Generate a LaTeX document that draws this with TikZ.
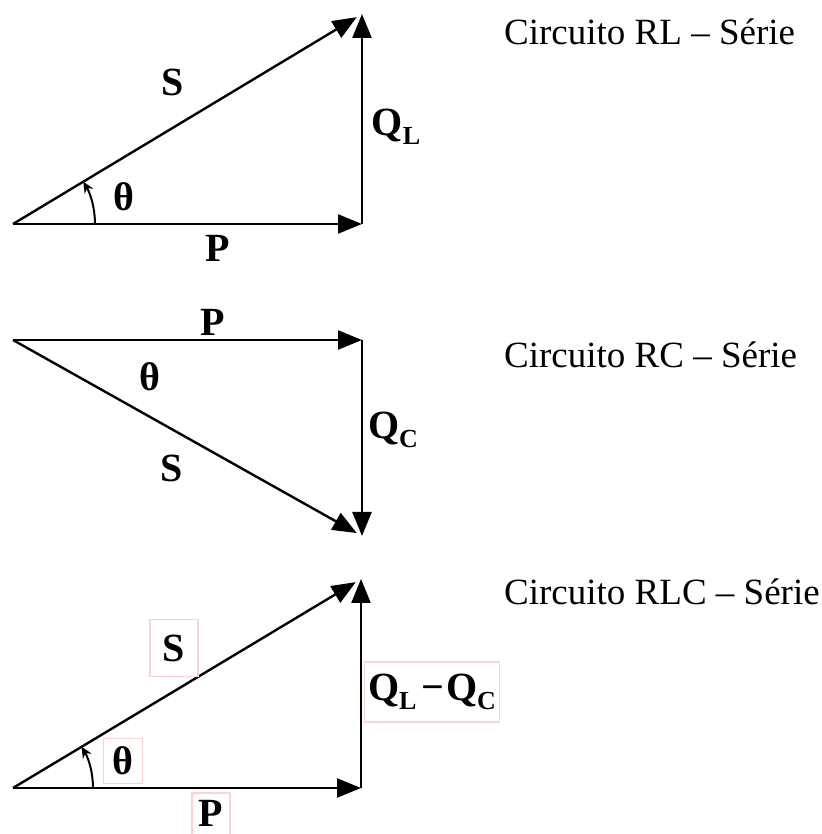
\documentclass[tikz,border=0pt]{standalone}
\usepackage{fontspec}
\setmainfont{Liberation Serif}
\usetikzlibrary{arrows.meta,calc}
\newcommand{\mysub}[1]{\raisebox{-0.22em}{\fontsize{26}{26}\selectfont #1}}
\begin{document}
\begin{tikzpicture}[x=1pt,y=1pt,
  vec/.style={line width=2.4pt,-{Triangle[length=24pt,width=19pt]}},
  angarc/.style={line width=2pt,-{Stealth[length=11pt,width=10pt]}},
  lbl/.style={font=\fontsize{40}{40}\selectfont\bfseries,inner sep=0pt},
  title/.style={font=\fontsize{37}{37}\selectfont,anchor=base west,inner sep=0pt},
  pbox/.style={draw=pink!70!white,line width=1.4pt,inner sep=0pt}]
\useasboundingbox (0,0) rectangle (821,834);
% ---------- Triangle 1 (RL) ----------
\coordinate (O1) at (13,610);
\coordinate (C1) at (362,610);
\coordinate (T1) at (362,820);
\draw[vec] (O1) -- (C1);
\draw[vec] (C1) -- (T1);
\draw[vec] (O1) -- ($(O1)!0.985!(T1)$);
\draw[angarc] ($(O1)+(82,0)$) arc[start angle=0,end angle=31,radius=82];
\node[lbl] (s1) at (173,752) {S};
\node[lbl] (q1) at (396,707) {Q\mysub{L}};
\node[lbl] (th1) at (124,637) {θ};
\node[lbl] (p1) at (218,586) {P};
\node[title] (t1) at (504,789) {Circuito RL – Série};
% ---------- Triangle 2 (RC) ----------
\coordinate (O2) at (13,494);
\coordinate (C2) at (362,494);
\coordinate (B2) at (362,298);
\draw[vec] (O2) -- (C2);
\draw[vec] (C2) -- (B2);
\draw[vec] (O2) -- ($(O2)!0.985!(B2)$);
\node[lbl] (p2) at (213,512) {P};
\node[lbl] (th2) at (150,457) {θ};
\node[lbl] (s2) at (172,366) {S};
\node[lbl] (q2) at (393,404) {Q\mysub{C}};
\node[title] (t2) at (504,466) {Circuito RC – Série};
% ---------- Triangle 3 (RLC) ----------
\coordinate (O3) at (13,46);
\coordinate (C3) at (361,46);
\coordinate (T3) at (361,255);
\draw[vec] (O3) -- (C3);
\draw[vec] (C3) -- (T3);
\draw[vec] (O3) -- ($(O3)!0.985!(T3)$);
\draw[angarc] ($(O3)+(80,0)$) arc[start angle=0,end angle=31,radius=80];
\node[pbox,minimum width=48pt,minimum height=57pt] (s3box) at (174,186) {};
\node[lbl] (s3) at (174,186) {S};
\node[pbox,minimum width=39pt,minimum height=45pt] (th3box) at (123,73) {};
\node[lbl] (th3) at (123,73) {θ};
\node[pbox,minimum width=38pt,minimum height=46pt] (p3box) at (211,18) {};
\node[lbl] (p3) at (211,21) {P};
\node[pbox,minimum width=135pt,minimum height=60pt] (q3box) at (432,142) {};
\node[lbl] (q3) at (432,142) {Q\mysub{L}\hspace{0.12em}−\hspace{0.05em}Q\mysub{C}};
\node[title] (t3) at (504,229) {Circuito RLC – Série};
\end{tikzpicture}
\end{document}
